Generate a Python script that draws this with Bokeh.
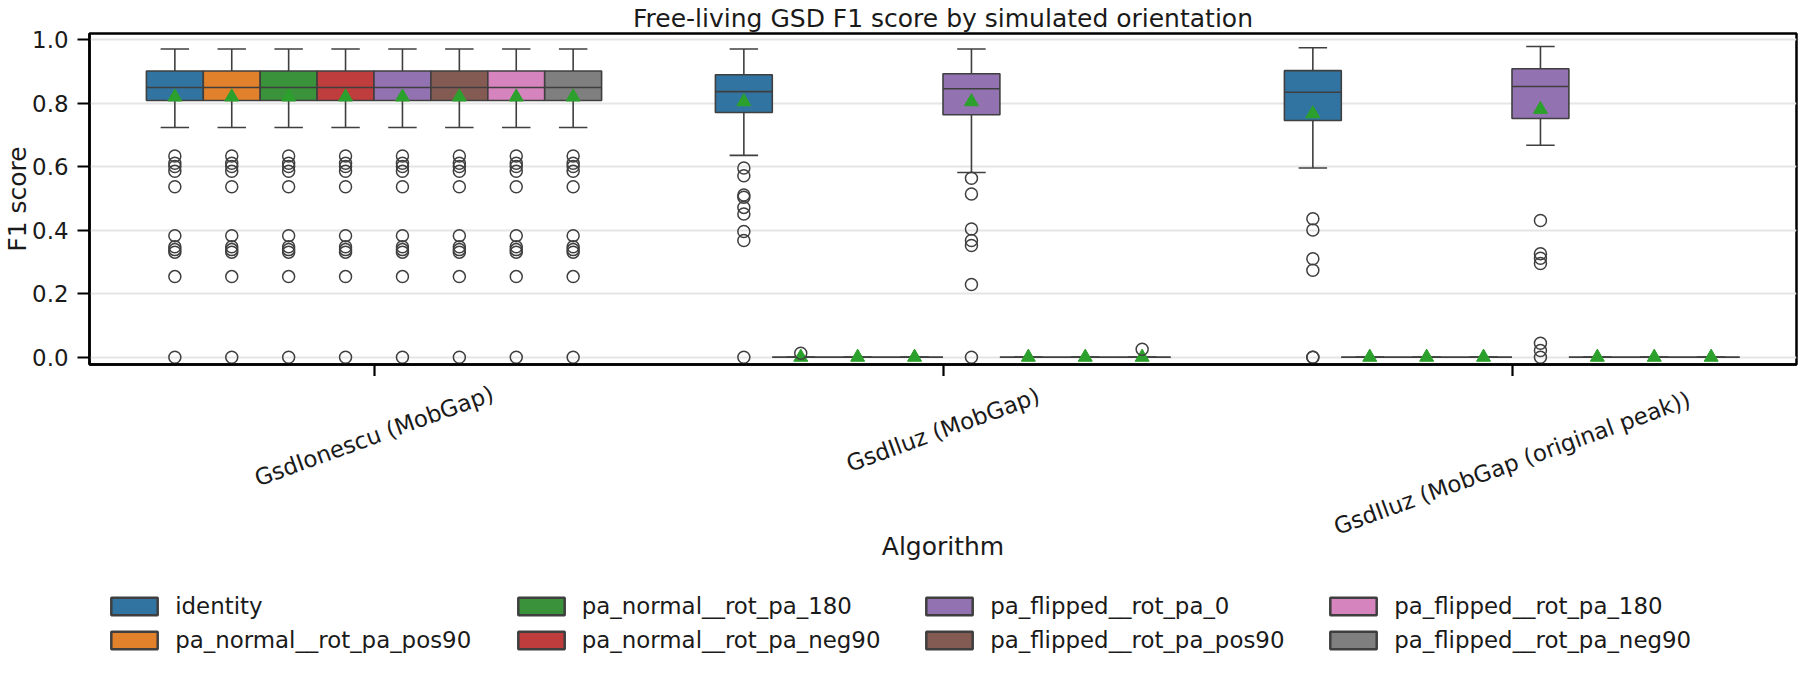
import math

from bokeh.core.properties import value
from bokeh.embed import file_html
from bokeh.layouts import column
from bokeh.models import (ColumnDataSource, FixedTicker, Legend, LegendItem,
                          NumeralTickFormatter, Range1d)
from bokeh.plotting import figure
from bokeh.resources import INLINE

# ---------------------------------------------------------------- data
ALGORITHMS = [
    "GsdIonescu (MobGap)",
    "GsdIluz (MobGap)",
    "GsdIluz (MobGap (original peak))",
]
ORIENTATIONS = [
    "identity",
    "pa_normal__rot_pa_pos90",
    "pa_normal__rot_pa_180",
    "pa_normal__rot_pa_neg90",
    "pa_flipped__rot_pa_0",
    "pa_flipped__rot_pa_pos90",
    "pa_flipped__rot_pa_180",
    "pa_flipped__rot_pa_neg90",
]
PALETTE = ["#3274a1", "#e1812c", "#3a923a", "#c03d3e",
           "#9372b2", "#845b53", "#d684bd", "#7f7f7f"]

# Box statistics, one list per algorithm, one entry per orientation
whisker_low = [
    [0.724] * 8,
    [0.636, 0.0, 0.0, 0.0, 0.582, 0.0, 0.0, 0.0],
    [0.596, 0.0, 0.0, 0.0, 0.668, 0.0, 0.0, 0.0],
]
q1 = [
    [0.809] * 8,
    [0.771, 0.0, 0.0, 0.0, 0.764, 0.0, 0.0, 0.0],
    [0.746, 0.0, 0.0, 0.0, 0.752, 0.0, 0.0, 0.0],
]
median = [
    [0.850] * 8,
    [0.837, 0.0, 0.0, 0.0, 0.846, 0.0, 0.0, 0.0],
    [0.835, 0.0, 0.0, 0.0, 0.853, 0.0, 0.0, 0.0],
]
q3 = [
    [0.902] * 8,
    [0.890, 0.0, 0.0, 0.0, 0.893, 0.0, 0.0, 0.0],
    [0.903, 0.0, 0.0, 0.0, 0.909, 0.0, 0.0, 0.0],
]
whisker_high = [
    [0.971] * 8,
    [0.971, 0.0, 0.0, 0.0, 0.971, 0.0, 0.0, 0.0],
    [0.975, 0.0, 0.0, 0.0, 0.979, 0.0, 0.0, 0.0],
]
mean_f1 = [
    [0.820] * 8,
    [0.805, 0.0, 0.0, 0.0, 0.805, 0.0, 0.0, 0.0],
    [0.767, 0.0, 0.0, 0.0, 0.781, 0.0, 0.0, 0.0],
]
ionescu_outliers = [0.634, 0.611, 0.601, 0.586, 0.537, 0.383,
                    0.348, 0.339, 0.331, 0.254, 0.0]
outliers = [
    [ionescu_outliers] * 8,
    [[0.596, 0.572, 0.511, 0.504, 0.472, 0.451, 0.396, 0.368, 0.0],
     [0.0125], [], [],
     [0.564, 0.514, 0.404, 0.368, 0.352, 0.229, 0.0],
     [], [], [0.025]],
    [[0.436, 0.401, 0.310, 0.274, 0.0, 0.0],
     [], [], [],
     [0.431, 0.326, 0.312, 0.295, 0.044, 0.021, 0.0],
     [], [], []],
]
Y_TICKS = [0.0, 0.2, 0.4, 0.6, 0.8, 1.0]

# ---------------------------------------------------------------- style
FONT = "DejaVu Sans"
TEXT = "#1a1a1a"
EDGE = "#3f3f3f"
MEAN_COLOR = "#2ca02c"
HUE_WIDTH = 0.1
TICK_FS = "22.9px"
LABEL_FS = "25px"

W, H = 1800, 700
LEFT, RIGHT = 88, 4
TOP, AX_BOTTOM = 32, 12
FRAME_BOTTOM = 364           # screen y of the box-plot frame's lower edge
PLOT_H = FRAME_BOTTOM + AX_BOTTOM
FOOT_H = H - PLOT_H          # rotated labels, axis title and legend

x_range = Range1d(-0.5, 2.5)

p = figure(width=W, height=PLOT_H, output_backend="svg",
           toolbar_location=None, x_range=x_range,
           y_range=Range1d(-0.023, 1.02),
           min_border_left=LEFT, min_border_right=RIGHT,
           min_border_top=TOP, min_border_bottom=AX_BOTTOM,
           title="Free-living GSD F1 score by simulated orientation")
p.title.align = "center"
p.title.text_font = FONT
p.title.text_font_size = LABEL_FS
p.title.text_font_style = "normal"
p.title.text_color = TEXT
p.title.standoff = 2
p.background_fill_color = "white"
p.border_fill_color = "white"
p.outline_line_color = "black"
p.outline_line_width = 2.5
p.outline_line_alpha = 1.0

for ax in (p.xaxis[0], p.yaxis[0]):
    ax.axis_line_color = "black"
    ax.axis_line_width = 2.5
    ax.major_tick_line_color = "black"
    ax.major_tick_line_width = 2.2
    ax.major_tick_out = 12
    ax.major_tick_in = 0
    ax.minor_tick_line_color = None
    ax.major_label_text_font = FONT
    ax.major_label_text_color = TEXT

p.xaxis.ticker = FixedTicker(ticks=list(range(len(ALGORITHMS))))
p.xaxis.major_label_overrides = {i: "" for i in range(len(ALGORITHMS))}
p.xaxis.major_label_text_font_size = "0px"
p.xaxis.major_label_standoff = 0
p.yaxis.ticker = FixedTicker(ticks=Y_TICKS)
p.yaxis.formatter = NumeralTickFormatter(format="0.0")
p.yaxis.major_label_text_font_size = TICK_FS
p.yaxis.major_label_standoff = 9
p.yaxis.axis_label = "F1 score"
p.yaxis.axis_label_text_font = FONT
p.yaxis.axis_label_text_font_size = LABEL_FS
p.yaxis.axis_label_text_font_style = "normal"
p.yaxis.axis_label_text_color = TEXT
# tight standoff keeps the left panel within the 88 px border
p.yaxis.axis_label_standoff = -3

p.xgrid.visible = False
p.ygrid.ticker = FixedTicker(ticks=Y_TICKS)
p.ygrid.grid_line_color = "#e5e5e5"
p.ygrid.grid_line_width = 2

# ---------------------------------------------------------------- boxes
n_alg = len(ALGORITHMS)
n_hue = len(ORIENTATIONS)
out_x, out_y = [], []
for j, name in enumerate(ORIENTATIONS):
    offset = -HUE_WIDTH * n_hue / 2 + HUE_WIDTH * (j + 0.5)
    xs = [i + offset for i in range(n_alg)]
    src = ColumnDataSource(dict(
        x=xs,
        left=[x - HUE_WIDTH / 2 for x in xs],
        right=[x + HUE_WIDTH / 2 for x in xs],
        cap_l=[x - HUE_WIDTH / 4 for x in xs],
        cap_r=[x + HUE_WIDTH / 4 for x in xs],
        lo=[whisker_low[i][j] for i in range(n_alg)],
        q1=[q1[i][j] for i in range(n_alg)],
        med=[median[i][j] for i in range(n_alg)],
        q3=[q3[i][j] for i in range(n_alg)],
        hi=[whisker_high[i][j] for i in range(n_alg)],
        mean=[mean_f1[i][j] for i in range(n_alg)],
    ))
    p.segment(x0="x", y0="q1", x1="x", y1="lo", source=src,
              line_color=EDGE, line_width=1.6)
    p.segment(x0="x", y0="q3", x1="x", y1="hi", source=src,
              line_color=EDGE, line_width=1.6)
    p.quad(left="left", right="right", bottom="q1", top="q3", source=src,
           fill_color=PALETTE[j], line_color=EDGE, line_width=1.6)
    p.segment(x0="left", y0="med", x1="right", y1="med", source=src,
              line_color=EDGE, line_width=1.6)
    p.segment(x0="cap_l", y0="lo", x1="cap_r", y1="lo", source=src,
              line_color=EDGE, line_width=1.6)
    p.segment(x0="cap_l", y0="hi", x1="cap_r", y1="hi", source=src,
              line_color=EDGE, line_width=1.6)
    p.scatter(x="x", y="mean", source=src, marker="triangle", size=14,
              fill_color=MEAN_COLOR, line_color=MEAN_COLOR)
    for i, x in enumerate(xs):
        for v in outliers[i][j]:
            out_x.append(x)
            out_y.append(v)

p.scatter(x=out_x, y=out_y, marker="circle", size=12, fill_alpha=0,
          line_color=EDGE, line_width=1.5)

# ---------------------------------------------------------------- footer
# y of the footer runs downward in pixels from the panel's top edge
foot = figure(width=W, height=FOOT_H, output_backend="svg",
              toolbar_location=None, x_range=x_range,
              y_range=Range1d(FOOT_H, 0),
              min_border_left=LEFT, min_border_right=RIGHT,
              min_border_top=0, min_border_bottom=0,
              x_axis_location=None, y_axis_location=None)
foot.outline_line_color = None
foot.grid.visible = False
foot.background_fill_color = "white"
foot.border_fill_color = "white"

# rotated category labels, centred under their ticks
rot = math.radians(20)
label_y = []
for name in ALGORITHMS:
    est_len = 12.2 * len(name)
    label_y.append(383 + (est_len * math.sin(rot) + 27 * math.cos(rot)) / 2
                   - PLOT_H)
foot.text(x=list(range(n_alg)), y=label_y, text=ALGORITHMS, angle=rot,
          text_font=value(FONT), text_font_size=value(TICK_FS),
          text_color=TEXT, text_align="center", text_baseline="middle")

foot.text(x=[1], y=[546 - PLOT_H], text=["Algorithm"],
          text_font=value(FONT), text_font_size=value(LABEL_FS),
          text_color=TEXT, text_align="center", text_baseline="alphabetic")

# legend: four columns of two entries; the swatch renderers hold no
# visible geometry, they only carry the fill and outline for the legend
nan = float("nan")
swatches = [foot.quad(left=[nan], right=[nan], bottom=[nan], top=[nan],
                      fill_color=PALETTE[j], line_color=EDGE, line_width=2.5)
            for j in range(n_hue)]
col_swatch_left = [110, 516.6, 925, 1329]
for c in range(4):
    items = [LegendItem(label=ORIENTATIONS[2 * c + r],
                        renderers=[swatches[2 * c + r]])
             for r in range(2)]
    leg = Legend(items=items, orientation="vertical",
                 location=(col_swatch_left[c] - 5.8 - LEFT, H - 653.5),
                 glyph_width=58, glyph_height=22, label_standoff=12,
                 label_height=27, spacing=7, padding=0, margin=0,
                 label_text_font=FONT, label_text_font_size=TICK_FS,
                 label_text_color=TEXT, border_line_alpha=0,
                 background_fill_alpha=0)
    foot.add_layout(leg, "center")

layout = column(p, foot, spacing=0)
open("out.html", "w").write(file_html(layout, INLINE))
